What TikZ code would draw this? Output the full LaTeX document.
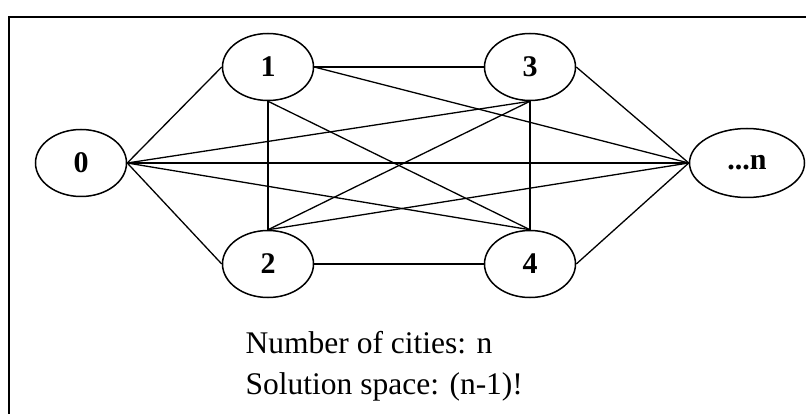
\documentclass[tikz,border=0pt]{standalone}
\usepackage{fontspec}
\setmainfont{Liberation Serif}
\usetikzlibrary{shapes.geometric}

\begin{document}
\begin{tikzpicture}[x=1pt,y=-1pt,line width=1.3pt,
  city/.style={ellipse,draw,line width=1.5pt,minimum width=91pt,minimum height=67pt,
    inner sep=0pt,font=\fontsize{30}{30}\selectfont\bfseries},
  txt/.style={anchor=base west,inner sep=0pt,font=\fontsize{31.5}{36}\selectfont}]
\useasboundingbox (0,0) rectangle (806,414);
\draw[line width=1.5pt] (9,17) rectangle (820,430);
\node[city] (c0) at (81,163) {0};
\node[city] (c1) at (268,67) {1};
\node[city] (c2) at (268,264) {2};
\node[city] (c3) at (530,67) {3};
\node[city] (c4) at (530,264) {4};
\node[city,minimum width=115pt,minimum height=69pt] (cn) at (747,163) {...n};
\draw (c0.east)--(c1.west);
\draw (c0.east)--(c2.west);
\draw (c0.east)--(c3.south);
\draw (c0.east)--(c4.north);
\draw (c0.east)--(cn.west);
\draw (c1.east)--(c3.west);
\draw (c2.east)--(c4.west);
\draw (c1.south)--(c2.north);
\draw (c3.south)--(c4.north);
\draw (c1.south)--(c4.north);
\draw (c3.south)--(c2.north);
\draw (c1.east)--(cn.west);
\draw (c2.north)--(cn.west);
\draw (c3.east)--(cn.west);
\draw (c4.east)--(cn.west);
\node[txt] (cities) at (245,353) {Number of cities: n};
\node[txt] (space) at (245,394) {Solution space: (n-1)!};
\end{tikzpicture}
\end{document}
